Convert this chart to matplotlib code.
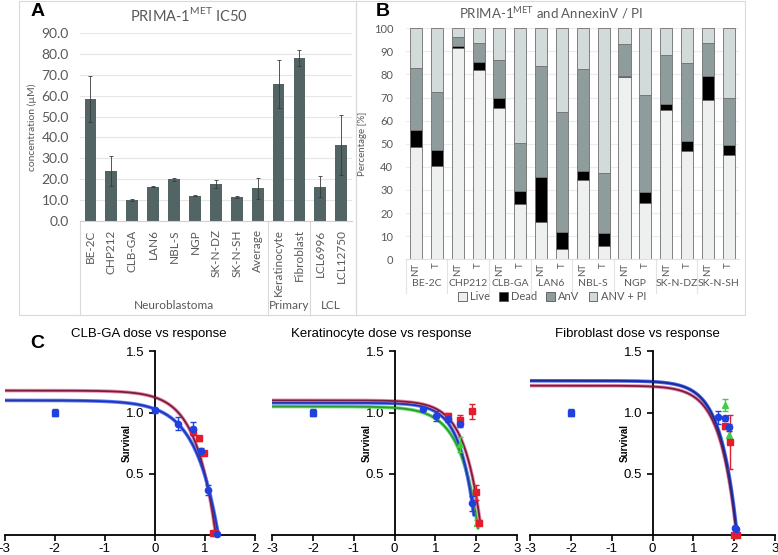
import numpy as np
import matplotlib.pyplot as plt
from matplotlib.patches import Rectangle, Patch
from matplotlib.transforms import blended_transform_factory

plt.rcParams['font.family'] = ['Lato', 'DejaVu Sans']
plt.rcParams['mathtext.fontset'] = 'custom'
plt.rcParams['mathtext.rm'] = 'Lato'
plt.rcParams['axes.unicode_minus'] = False

# ---- panel A: IC50 per cell line ----
ic50_lines = ['BE-2C', 'CHP212', 'CLB-GA', 'LAN6', 'NBL-S', 'NGP', 'SK-N-DZ',
              'SK-N-SH', 'Average', 'Keratinocyte', 'Fibroblast', 'LCL6996', 'LCL12750']
ic50_mean = [58.4, 23.8, 10.1, 16.4, 19.9, 12.1, 17.6, 11.3, 15.7, 65.5, 77.9, 16.5, 36.4]
ic50_err = [11.0, 7.2, 0.3, 0.3, 0.9, 0.3, 1.9, 0.5, 5.0, 11.4, 3.8, 5.0, 14.5]
ic50_groups = ['Neuroblastoma', 'Primary', 'LCL']
ic50_group_span = [(0, 8), (9, 10), (11, 12)]

# ---- panel B: AnnexinV / PI ----
annex_lines = ['BE-2C', 'CHP212', 'CLB-GA', 'LAN6', 'NBL-S', 'NGP', 'SK-N-DZ', 'SK-N-SH']
annex_cond = ['NT', 'T']
live = [48.5, 40.4, 91.3, 82.0, 65.4, 23.9, 16.0, 4.3, 34.3, 5.9, 78.9, 24.2, 64.8, 47.0, 69.0, 45.2]
dead = [7.5, 6.9, 1.0, 3.3, 4.6, 5.5, 19.5, 7.4, 4.1, 5.3, 0.4, 5.1, 2.3, 4.1, 10.5, 4.2]
anv = [26.7, 25.0, 3.8, 8.2, 16.1, 20.8, 48.2, 52.1, 44.1, 26.0, 14.0, 41.7, 21.2, 33.7, 14.3, 20.3]
anv_pi = [17.3, 27.7, 3.9, 6.5, 13.9, 49.8, 16.3, 36.2, 17.5, 62.8, 6.7, 29.0, 11.7, 15.2, 6.2, 30.3]

# ---- panel C: dose vs response (x = log10 dose) ----
ctrl_x, ctrl_y, ctrl_err = -2.0, 1.0, 0.03

clb_blue_x = [0.0, 0.47, 0.77, 0.93, 1.06, 1.24]
clb_blue_y = [1.02, 0.91, 0.87, 0.69, 0.37, 0.01]
clb_blue_err = [0.02, 0.05, 0.05, 0.02, 0.04, 0.01]
clb_red_x = [0.77, 0.89, 0.99, 1.16, 1.21]
clb_red_y = [0.85, 0.79, 0.67, 0.02, 0.02]
clb_red_err = [0.03, 0.02, 0.02, 0.01, 0.01]

kera_blue_x = [0.70, 1.01, 1.31, 1.61, 1.90]
kera_blue_y = [1.03, 0.97, 0.95, 0.91, 0.26]
kera_blue_err = [0.01, 0.04, 0.03, 0.03, 0.06]
kera_red_x = [1.31, 1.62, 1.90, 2.01, 2.08]
kera_red_y = [0.97, 0.94, 1.01, 0.35, 0.10]
kera_red_err = [0.03, 0.04, 0.06, 0.06, 0.02]
kera_green_x = [1.62, 2.03]
kera_green_y = [0.74, 0.10]
kera_green_err = [0.06, 0.02]

fib_blue_x = [1.60, 1.78, 1.89, 2.02, 2.06]
fib_blue_y = [0.96, 0.955, 0.88, 0.06, 0.05]
fib_blue_err = [0.05, 0.02, 0.03, 0.01, 0.01]
fib_red_x = [1.77, 1.90, 2.00, 2.08]
fib_red_y = [0.89, 0.76, 0.0, 0.0]
fib_red_err = [0.02, 0.22, 0.01, 0.01]
fib_green_x = [1.78, 1.88]
fib_green_y = [1.06, 0.82]
fib_green_err = [0.05, 0.03]

# fitted curves: y = top - a * 10**(h*x), drawn up to x_end (top, a, h, x_end)
clb_fit_red = (1.18, 0.055, 1.09, 1.25)
clb_fit_blue = (1.10, 0.07, 0.94, 1.28)
kera_fit_red = (1.10, 0.0056, 1.07, 2.10)
kera_fit_blue = (1.08, 0.0048, 1.17, 1.95)
kera_fit_green = (1.05, 0.0107, 0.96, 2.05)
fib_fit_red = (1.22, 0.0072, 1.08, 2.05)
fib_fit_blue = (1.26, 0.0072, 1.08, 2.05)

W, H = 778, 555
fig = plt.figure(figsize=(7.78, 5.55), dpi=100)


def px_axes(x0, y0, x1, y1):
    return fig.add_axes([x0 / W, 1 - y1 / H, (x1 - x0) / W, (y1 - y0) / H])


grey_txt = '#595959'
frame_col = '#d9d9d9'

# panel frames
for x0, x1 in [(19, 356), (356, 745)]:
    fig.add_artist(Rectangle((x0 / W, 1 - 315 / H), (x1 - x0) / W, 314 / H,
                             transform=fig.transFigure, fill=False,
                             edgecolor=frame_col, lw=0.8))

# ---------------- A ----------------
axA = px_axes(80, 33, 351.7, 221)
xa = np.arange(len(ic50_lines))
axA.bar(xa, ic50_mean, width=0.56, color='#536464', yerr=ic50_err,
        error_kw=dict(ecolor='#3a3a3a', elinewidth=0.6, capsize=1.5, capthick=0.6))
axA.set_xlim(-0.5, len(ic50_lines) - 0.5)
axA.set_ylim(0, 90)
axA.set_yticks(np.arange(0, 91, 10))
axA.set_yticklabels(['%.1f' % v for v in np.arange(0, 91, 10)])
axA.yaxis.grid(True, color='#e6e6e6', lw=0.8)
axA.set_axisbelow(True)
for s in ['left', 'top', 'right']:
    axA.spines[s].set_visible(False)
axA.spines['bottom'].set_color('#d0d0d0')
axA.set_xticks(xa)
axA.set_xticklabels(ic50_lines, rotation=90)
axA.tick_params(length=0, labelsize=10, colors=grey_txt)
axA.tick_params(axis='x', pad=6, labelsize=8.5)
axA.tick_params(axis='y', pad=8)
axA.set_ylabel('concentration (µM)', fontsize=7.5, color=grey_txt, labelpad=3)
trA = blended_transform_factory(axA.transData, axA.transAxes)
for (g0, g1), name in zip(ic50_group_span, ic50_groups):
    axA.text((g0 + g1) / 2, -0.452, name, transform=trA, ha='center', va='center',
             fontsize=8.5, color=grey_txt)
for g0, g1 in ic50_group_span:
    axA.plot([g0 - 0.5, g0 - 0.5], [0, -0.5], transform=trA, color=frame_col,
             lw=0.8, clip_on=False)
fig.text(188.6 / W, 1 - 15 / H, r'PRIMA-1$^{\mathrm{MET}}$ IC50', ha='center',
         va='center', fontsize=10.5, color=grey_txt)
fig.text(38 / W, 1 - 12 / H, 'A', fontsize=14, fontweight='bold',
         family='Liberation Sans', ha='center', va='center')

# ---------------- B ----------------
axB = px_axes(405.6, 28.3, 739.1, 259.3)
xb = np.arange(len(live))
live_a, dead_a, anv_a, anvpi_a = map(np.array, (live, dead, anv, anv_pi))
seg_cols = ['#eeefef', '#000000', '#8e9d9b', '#d2dbda']
seg_names = ['Live', 'Dead', 'AnV', 'ANV + PI']
bottom = np.zeros(len(live))
for vals, col, name in zip([live_a, dead_a, anv_a, anvpi_a], seg_cols, seg_names):
    axB.bar(xb, vals, bottom=bottom, width=0.58, color=col, edgecolor='#6e6e6e',
            lw=0.6, label=name)
    bottom = bottom + vals
axB.set_xlim(-0.5, len(live) - 0.5)
axB.set_ylim(0, 100)
axB.set_yticks(np.arange(0, 101, 10))
axB.yaxis.grid(True, color='#ececec', lw=0.8)
axB.set_axisbelow(True)
for s in ['left', 'top', 'right']:
    axB.spines[s].set_visible(False)
axB.spines['bottom'].set_color('#e0e0e0')
axB.set_xticks(xb)
axB.set_xticklabels(annex_cond * len(annex_lines), rotation=90)
axB.tick_params(length=0, labelsize=8, colors=grey_txt)
axB.tick_params(axis='y', pad=9)
axB.tick_params(axis='x', pad=2.5, labelsize=7)
axB.set_ylabel('Percentage [%]', fontsize=7, color=grey_txt, labelpad=5)
trB = blended_transform_factory(axB.transData, axB.transAxes)
for i, name in enumerate(annex_lines):
    axB.text(2 * i + 0.5, -0.105, name, transform=trB, ha='center', va='center',
             fontsize=7.5, color=grey_txt)
    axB.plot([2 * i - 0.5, 2 * i - 0.5], [0, -0.146], transform=trB,
             color='#e3e3e3', lw=0.8, clip_on=False)
handles = [Patch(facecolor=c, edgecolor='#555555', lw=0.6) for c in seg_cols]
fig.legend(handles, seg_names, loc='center', bbox_to_anchor=(552 / W, 1 - 297 / H),
           ncol=4, frameon=False, fontsize=8, handlelength=0.8, handleheight=0.8,
           handletextpad=0.3, columnspacing=0.8, labelcolor=grey_txt)
fig.text(551 / W, 1 - 13 / H, r'PRIMA-1$^{\mathrm{MET}}$ and AnnexinV / PI',
         ha='center', va='center', fontsize=9.5, color=grey_txt)
fig.text(383 / W, 1 - 12 / H, 'B', fontsize=14, fontweight='bold',
         family='Liberation Sans', ha='center', va='center')

# ---------------- C ----------------
blue = '#2141de'
red = '#e31d2b'
green = '#3fcf46'


def draw_fit(ax, fit, core, halo):
    top, a, h, x_end = fit
    xs = np.linspace(-3, x_end, 400)
    ys = top - a * 10 ** (h * xs)
    keep = ys >= 0
    ax.plot(xs[keep], ys[keep], color=halo, lw=2.6, solid_capstyle='round', zorder=2)
    ax.plot(xs[keep], ys[keep], color=core, lw=1.3, zorder=3)


def draw_points(ax, xs, ys, err, marker, col, ms):
    ax.errorbar(xs, ys, yerr=err, fmt=marker, color=col, ms=ms, elinewidth=1,
                capsize=2, capthick=1, clip_on=False, zorder=5)


def dose_axes(x0, x1, xmax, title, title_x):
    ax = px_axes(x0, 351.4, x1, 535)
    ax.set_xlim(-3, xmax)
    ax.set_ylim(0, 1.5)
    ax.spines['left'].set_position(('data', 0))
    for s in ['top', 'right']:
        ax.spines[s].set_visible(False)
    for s in ['left', 'bottom']:
        ax.spines[s].set_linewidth(1.3)
    ax.set_xticks(np.arange(-3, xmax + 1))
    ax.set_yticks([0.5, 1.0, 1.5])
    ax.set_yticklabels(['0.5', '1.0', '1.5'])
    ax.tick_params(direction='out', length=4, width=1.2, labelsize=9.5,
                   labelfontfamily='Liberation Sans')
    ax.tick_params(axis='x', pad=1.5)
    ax.annotate('Survival', xy=(0, 0.75), xytext=(-20, 0), textcoords='offset points',
                rotation=90, ha='center', va='center', fontsize=7, fontweight='bold',
                family='Liberation Sans')
    fig.text(title_x / W, 1 - 334 / H, title, ha='center', va='center', fontsize=9.5,
             family='Liberation Sans')
    ax.errorbar([ctrl_x], [ctrl_y], yerr=[ctrl_err], fmt='s', color=blue, ms=4.5,
                capsize=2, zorder=5)
    return ax


ax1 = dose_axes(4.7, 254.7, 2, 'CLB-GA dose vs response', 148.7)
draw_fit(ax1, clb_fit_red, '#7b1d3c', '#e98fb0')
draw_fit(ax1, clb_fit_blue, '#2236b4', '#5b7cff')
draw_points(ax1, clb_red_x, clb_red_y, clb_red_err, 's', red, 4.5)
draw_points(ax1, clb_blue_x, clb_blue_y, clb_blue_err, 'o', blue, 4.5)

ax2 = dose_axes(272.3, 516.7, 3, 'Keratinocyte dose vs response', 381.7)
draw_fit(ax2, kera_fit_green, '#2f9a34', '#6fe06f')
draw_fit(ax2, kera_fit_blue, '#2236b4', '#5b7cff')
draw_fit(ax2, kera_fit_red, '#7b1d3c', '#e98fb0')
draw_points(ax2, kera_green_x, kera_green_y, kera_green_err, '^', green, 4.5)
draw_points(ax2, kera_red_x, kera_red_y, kera_red_err, 's', red, 4.5)
draw_points(ax2, kera_blue_x, kera_blue_y, kera_blue_err, 'o', blue, 4.5)

ax3 = dose_axes(530.3, 774.7, 3, 'Fibroblast dose vs response', 637)
draw_fit(ax3, fib_fit_red, '#7b1d3c', '#e98fb0')
draw_fit(ax3, fib_fit_blue, '#1b2a8f', '#4a6cf0')
draw_points(ax3, fib_green_x, fib_green_y, fib_green_err, '^', green, 4.5)
draw_points(ax3, fib_red_x, fib_red_y, fib_red_err, 's', red, 4.5)
draw_points(ax3, fib_blue_x, fib_blue_y, fib_blue_err, 'o', blue, 4.5)

fig.text(37 / W, 1 - 343 / H, 'C', fontsize=14, fontweight='bold',
         family='Liberation Sans', ha='center', va='center')

fig.savefig('out.png', dpi=100)
